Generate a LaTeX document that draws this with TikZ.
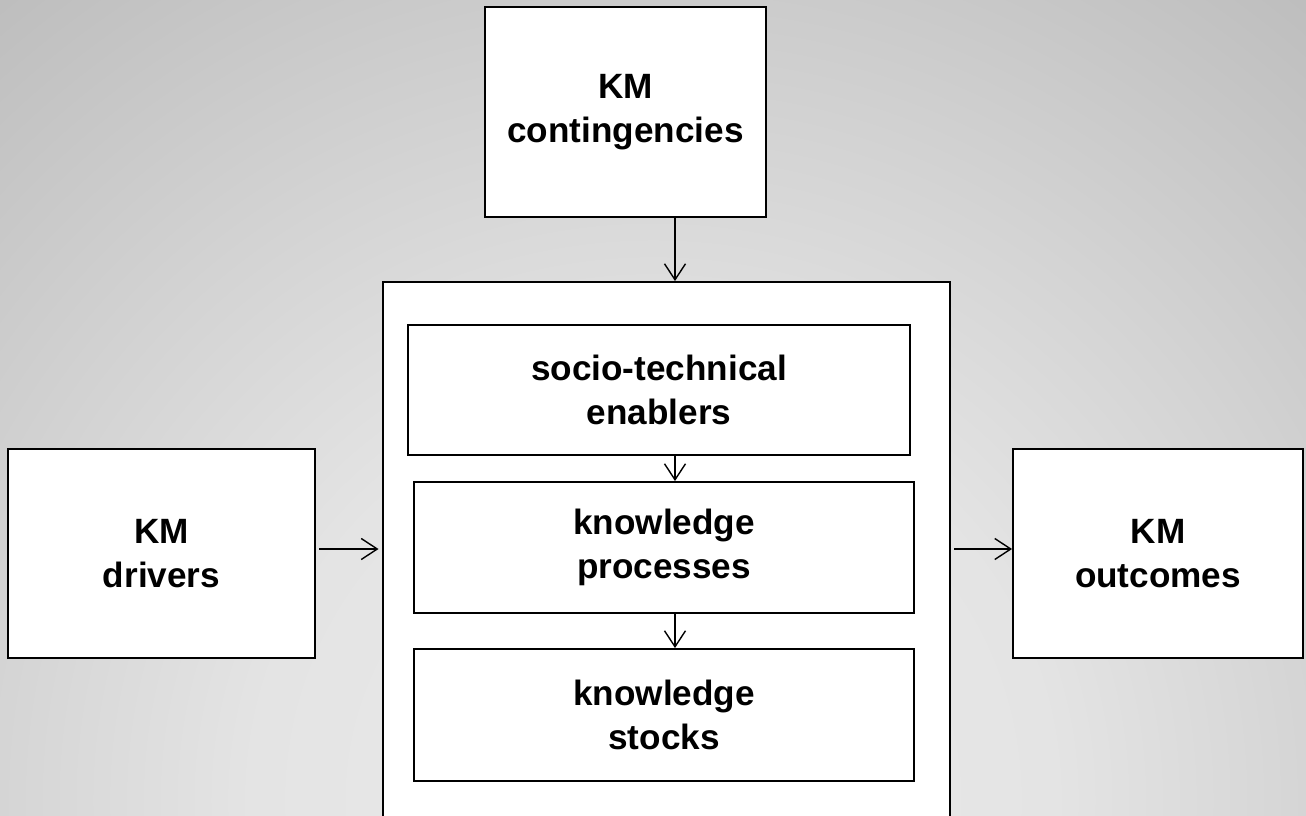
\documentclass[tikz,border=0pt]{standalone}
\usepackage{fontspec}
\setmainfont{Liberation Sans}
\usetikzlibrary{arrows.meta}
\definecolor{bgA}{gray}{0.92}
\definecolor{bgB}{gray}{0.894}
\definecolor{bgC}{gray}{0.83}
\definecolor{bgD}{gray}{0.745}
\definecolor{bgE}{gray}{0.72}
\pgfdeclareradialshading{bgshade}{\pgfpoint{0bp}{0bp}}{color(0bp)=(bgA); color(227bp)=(bgB); color(383bp)=(bgC); color(584bp)=(bgD); color(650bp)=(bgE)}
\tikzset{
  box/.style={draw,line width=1.1pt,fill=white,align=center,
    font=\bfseries\fontsize{20}{25}\selectfont,inner sep=0pt},
  link/.style={->,>={Straight Barb[length=0.32cm,width=0.42cm,line width=0.8pt]},line width=0.85pt}
}
\begin{document}
\begin{tikzpicture}
\useasboundingbox (0,0) rectangle (26.12,-16.3);
\clip (0,0) rectangle (26.12,-16.3);
\node[inner sep=0pt] (bg) at (13.06,-16) {\pgfuseshading{bgshade}};
\node[box,minimum width=5.62cm,minimum height=4.2cm] (cont) at (12.51,-2.24) {KM\\contingencies};
\node[box,minimum width=11.34cm,minimum height=10.96cm] (core) at (13.33,-11.12) {};
\node[box,minimum width=10.04cm,minimum height=2.6cm] (enab) at (13.18,-7.8) {socio-technical\\enablers};
\node[box,minimum width=10cm,minimum height=2.62cm] (proc) at (13.28,-10.95) {knowledge\\processes};
\node[box,minimum width=10cm,minimum height=2.64cm] (stock) at (13.28,-14.3) {knowledge\\stocks};
\node[box,minimum width=6.14cm,minimum height=4.18cm] (drv) at (3.23,-11.07) {KM\\drivers};
\node[box,minimum width=5.8cm,minimum height=4.18cm] (outc) at (23.16,-11.07) {KM\\outcomes};
\coordinate (mid) at (13.5,-10.98);
\draw [link](cont.south -| mid)--(core.north -| mid);
\draw [link](enab.south -| mid)--(proc.north -| mid);
\draw [link](proc.south -| mid)--(stock.north -| mid);
\draw [link,shorten <=2pt,shorten >=2pt](drv.east |- mid)--(core.west |- mid);
\draw [link,shorten <=2pt](core.east |- mid)--(outc.west |- mid);
\end{tikzpicture}
\end{document}
